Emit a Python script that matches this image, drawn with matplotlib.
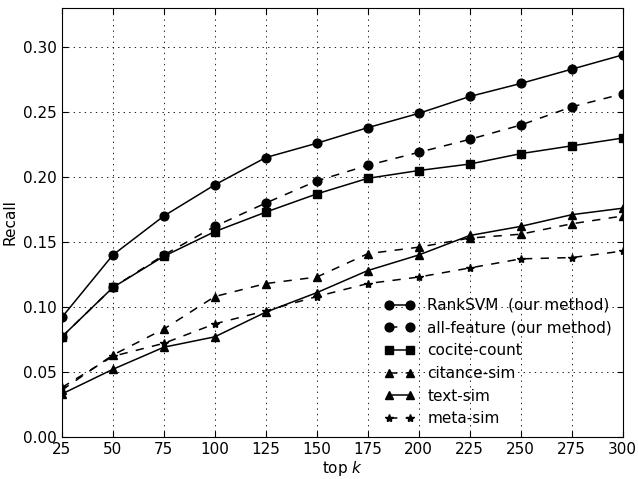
import numpy as np
import matplotlib
matplotlib.use('Agg')
from matplotlib import pyplot as plt

topk = [25, 50, 75, 100, 125, 150, 175, 200, 225, 250, 275, 300]

ranksvm = [0.092, 0.140, 0.170, 0.194, 0.215, 0.226, 0.238, 0.249, 0.262, 0.272, 0.283, 0.294]
all_feature = [0.077, 0.115, 0.140, 0.162, 0.180, 0.197, 0.209, 0.219, 0.229, 0.240, 0.254, 0.264]
cocite = [0.077, 0.115, 0.139, 0.158, 0.173, 0.187, 0.199, 0.205, 0.210, 0.218, 0.224, 0.230]
citance = [0.036, 0.063, 0.083, 0.108, 0.118, 0.123, 0.141, 0.146, 0.153, 0.156, 0.164, 0.170]
text_sim = [0.033, 0.052, 0.069, 0.077, 0.096, 0.111, 0.128, 0.140, 0.155, 0.162, 0.171, 0.176]
meta_sim = [0.038, 0.062, 0.072, 0.087, 0.097, 0.108, 0.118, 0.123, 0.130, 0.137, 0.138, 0.143]

plt.rcParams['xtick.direction'] = 'in'
plt.rcParams['ytick.direction'] = 'in'
plt.rcParams['xtick.top'] = True
plt.rcParams['ytick.right'] = True
plt.rcParams['xtick.major.size'] = 4
plt.rcParams['ytick.major.size'] = 4
plt.rcParams['lines.dashed_pattern'] = [6, 6]
plt.rcParams['lines.scale_dashes'] = False
plt.rcParams['lines.dotted_pattern'] = [1, 3]

fig = plt.figure(figsize=(6.38, 4.79), dpi=100)
ax = fig.add_axes([0.097, 0.088, 0.879, 0.895])

lw = 1.1
ms = 6.3
ax.plot(topk, ranksvm, 'k-o', lw=lw, markersize=ms, label='RankSVM  (our method)')
ax.plot(topk, all_feature, 'k--o', lw=lw, markersize=ms, label='all-feature (our method)')
ax.plot(topk, cocite, 'k-s', lw=lw, markersize=ms, label='cocite-count')
ax.plot(topk, citance, 'k--^', lw=lw, markersize=ms, label='citance-sim')
ax.plot(topk, text_sim, 'k-^', lw=lw, markersize=ms, label='text-sim')
ax.plot(topk, meta_sim, 'k--*', lw=lw, markersize=6, label='meta-sim')

ax.set_xlim(25, 300)
ax.set_ylim(0, 0.33)
ax.set_xticks(topk)
ax.set_yticks(np.arange(0, 0.31, 0.05))
ax.set_yticklabels(['%.2f' % v for v in np.arange(0, 0.31, 0.05)])
ax.grid(True, linestyle=':', color='k', linewidth=0.6)
ax.tick_params(labelsize=11)
ax.set_xlabel('top $k$', fontsize=11, labelpad=2)
ax.set_ylabel('Recall', fontsize=11)
ax.legend(loc='lower right', frameon=False, numpoints=2, fontsize=11,
          handlelength=2, borderaxespad=0.3)

plt.savefig('out.png', dpi=100)
